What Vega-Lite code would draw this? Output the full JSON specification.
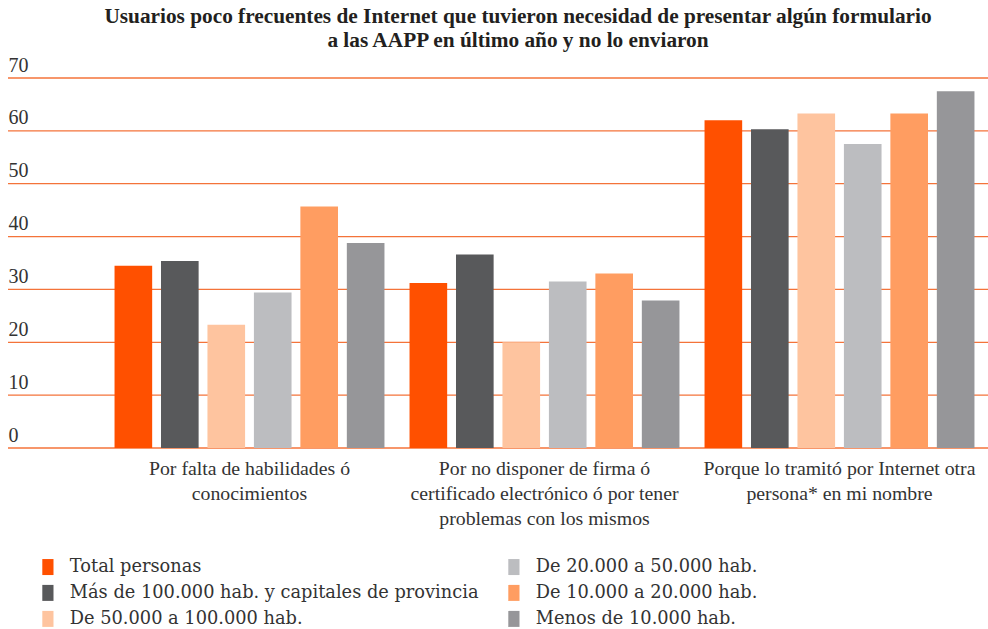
{
  "$schema": "https://vega.github.io/schema/vega-lite/v6.json",
  "width": 980,
  "height": 370,
  "autosize": "none",
  "padding": {"left": 8, "top": 78, "right": 0, "bottom": 181},
  "background": "white",
  "title": {
    "text": ["Usuarios poco frecuentes de Internet que tuvieron necesidad de presentar algún formulario", "a las AAPP en último año y no lo enviaron"],
    "font": "Liberation Serif",
    "fontSize": 21.3,
    "fontWeight": "bold",
    "color": "#231f20",
    "anchor": "middle",
    "frame": "group",
    "dx": 20,
    "offset": 4,
    "lineHeight": 24
  },
  "layer": [
    {
      "data": {"values": [{"valor": 0}, {"valor": 10}, {"valor": 20}, {"valor": 30}, {"valor": 40}, {"valor": 50}, {"valor": 60}, {"valor": 70}]},
      "mark": {"type": "rule", "color": "#f4733a", "strokeWidth": 1.3},
      "encoding": {
        "y": {"field": "valor", "type": "quantitative", "scale": {"domain": [0, 70]}}
      }
    },
    {
      "data": {
        "values": [
          {"motivo": "Por falta de habilidades ó\nconocimientos", "grupo": "Total personas", "valor": 34.5},
          {"motivo": "Por falta de habilidades ó\nconocimientos", "grupo": "Más de 100.000 hab. y capitales de provincia", "valor": 35.4},
          {"motivo": "Por falta de habilidades ó\nconocimientos", "grupo": "De 50.000 a 100.000 hab.", "valor": 23.3},
          {"motivo": "Por falta de habilidades ó\nconocimientos", "grupo": "De 20.000 a 50.000 hab.", "valor": 29.4},
          {"motivo": "Por falta de habilidades ó\nconocimientos", "grupo": "De 10.000 a 20.000 hab.", "valor": 45.7},
          {"motivo": "Por falta de habilidades ó\nconocimientos", "grupo": "Menos de 10.000 hab.", "valor": 38.8},
          {"motivo": "Por no disponer de firma ó\ncertificado electrónico ó por tener\nproblemas con los mismos", "grupo": "Total personas", "valor": 31.2},
          {"motivo": "Por no disponer de firma ó\ncertificado electrónico ó por tener\nproblemas con los mismos", "grupo": "Más de 100.000 hab. y capitales de provincia", "valor": 36.6},
          {"motivo": "Por no disponer de firma ó\ncertificado electrónico ó por tener\nproblemas con los mismos", "grupo": "De 50.000 a 100.000 hab.", "valor": 20.0},
          {"motivo": "Por no disponer de firma ó\ncertificado electrónico ó por tener\nproblemas con los mismos", "grupo": "De 20.000 a 50.000 hab.", "valor": 31.5},
          {"motivo": "Por no disponer de firma ó\ncertificado electrónico ó por tener\nproblemas con los mismos", "grupo": "De 10.000 a 20.000 hab.", "valor": 33.0},
          {"motivo": "Por no disponer de firma ó\ncertificado electrónico ó por tener\nproblemas con los mismos", "grupo": "Menos de 10.000 hab.", "valor": 27.9},
          {"motivo": "Porque lo tramitó por Internet otra\npersona* en mi nombre", "grupo": "Total personas", "valor": 62.0},
          {"motivo": "Porque lo tramitó por Internet otra\npersona* en mi nombre", "grupo": "Más de 100.000 hab. y capitales de provincia", "valor": 60.3},
          {"motivo": "Porque lo tramitó por Internet otra\npersona* en mi nombre", "grupo": "De 50.000 a 100.000 hab.", "valor": 63.3},
          {"motivo": "Porque lo tramitó por Internet otra\npersona* en mi nombre", "grupo": "De 20.000 a 50.000 hab.", "valor": 57.5},
          {"motivo": "Porque lo tramitó por Internet otra\npersona* en mi nombre", "grupo": "De 10.000 a 20.000 hab.", "valor": 63.3},
          {"motivo": "Porque lo tramitó por Internet otra\npersona* en mi nombre", "grupo": "Menos de 10.000 hab.", "valor": 67.5}
        ]
      },
      "mark": {"type": "bar"},
      "encoding": {
        "x": {
          "field": "motivo",
          "type": "nominal",
          "sort": null,
          "scale": {"range": [94, 979], "paddingInner": 0.085, "paddingOuter": 0.0425},
          "axis": {
            "title": null,
            "orient": "bottom",
            "domain": false,
            "ticks": false,
            "labelAngle": 0,
            "labelFont": "Liberation Serif",
            "labelFontSize": 19.8,
            "labelColor": "#333333",
            "labelLineHeight": 25,
            "labelPadding": 10,
            "labelBaseline": "top",
            "labelLimit": 0,
            "labelExpr": "split(datum.label, '\\n')"
          }
        },
        "xOffset": {
          "field": "grupo",
          "type": "nominal",
          "scale": {
            "domain": ["Total personas", "Más de 100.000 hab. y capitales de provincia", "De 50.000 a 100.000 hab.", "De 20.000 a 50.000 hab.", "De 10.000 a 20.000 hab.", "Menos de 10.000 hab."],
            "paddingInner": 0.19,
            "paddingOuter": 0
          }
        },
        "y": {
          "field": "valor",
          "type": "quantitative",
          "scale": {"domain": [0, 70]},
          "axis": {
            "title": null,
            "orient": "left",
            "domain": false,
            "ticks": false,
            "tickSize": 0,
            "grid": false,
            "values": [0, 10, 20, 30, 40, 50, 60, 70],
            "labelAlign": "left",
            "labelBaseline": "alphabetic",
            "labelPadding": 0,
            "labelOffset": -7,
            "labelFont": "Liberation Serif",
            "labelFontSize": 20,
            "labelColor": "#333333"
          }
        },
        "color": {
          "field": "grupo",
          "type": "nominal",
          "scale": {
            "domain": ["Total personas", "Más de 100.000 hab. y capitales de provincia", "De 50.000 a 100.000 hab.", "De 20.000 a 50.000 hab.", "De 10.000 a 20.000 hab.", "Menos de 10.000 hab."],
            "range": ["#ff5000", "#58595b", "#fec49f", "#bcbdc0", "#ff9d61", "#969699"]
          },
          "legend": {
            "orient": "none",
            "legendX": 31,
            "legendY": 480,
            "columns": 2,
            "title": null,
            "padding": 0,
            "symbolType": "M-0.7,-1H0.7V1H-0.7Z",
            "symbolSize": 256,
            "symbolStrokeWidth": 0,
            "symbolOpacity": 1,
            "labelFont": "DejaVu Serif",
            "labelFontSize": 17.8,
            "labelColor": "#333333",
            "labelOffset": 13,
            "labelLimit": 0,
            "rowPadding": 7,
            "columnPadding": 26
          }
        }
      }
    }
  ],
  "config": {"view": {"stroke": null}}
}
